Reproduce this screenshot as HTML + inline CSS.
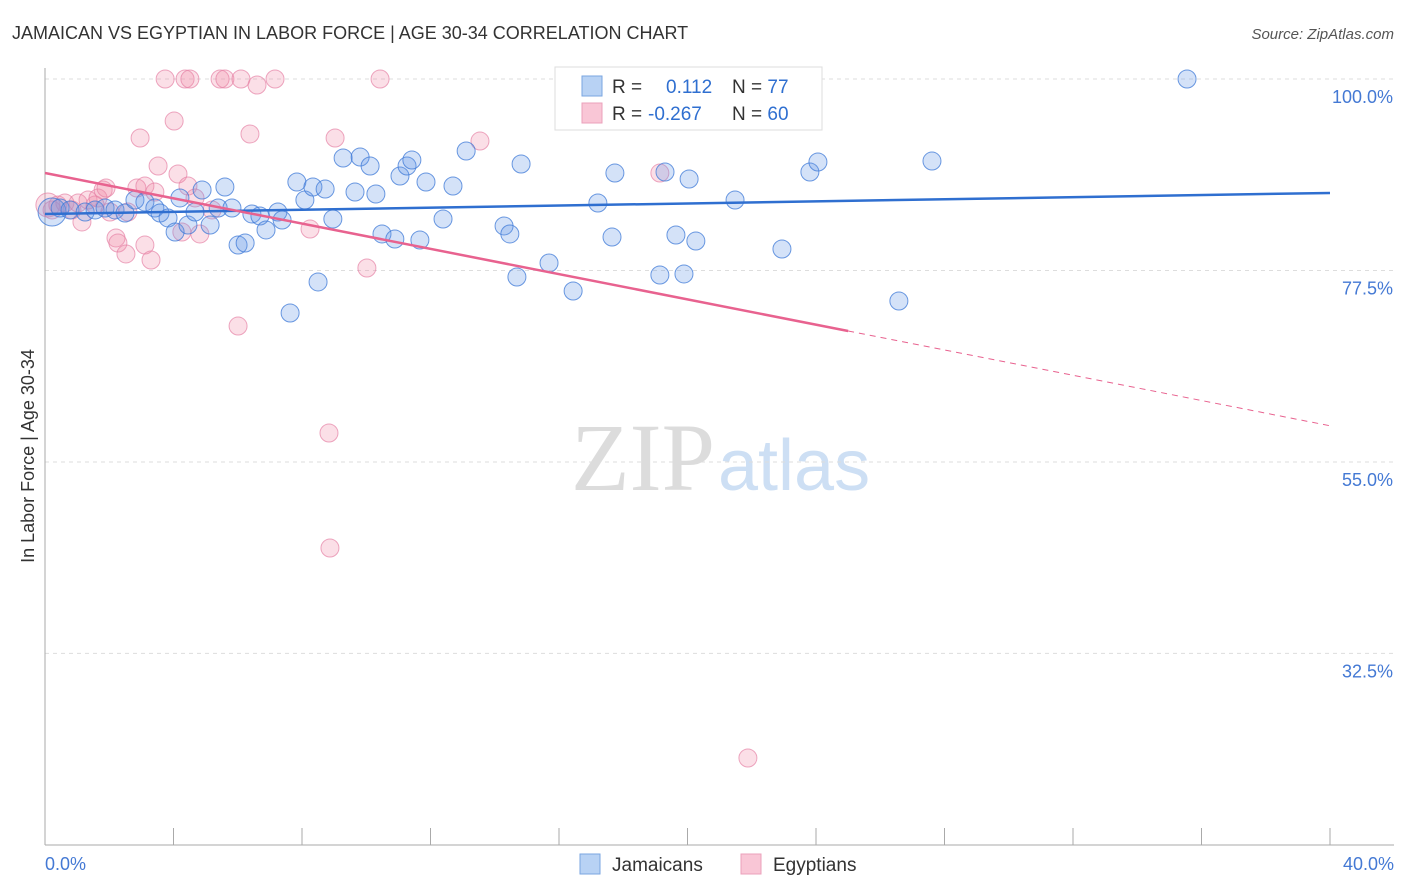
<!DOCTYPE html>
<html><head><meta charset="utf-8"><style>
body{margin:0;background:#fff;font-family:"Liberation Sans",sans-serif;}
svg{display:block}
</style></head><body>
<svg width="1406" height="892" xmlns="http://www.w3.org/2000/svg">
<text x="12" y="39" font-size="18" fill="#333">JAMAICAN VS EGYPTIAN IN LABOR FORCE | AGE 30-34 CORRELATION CHART</text>
<text x="1394" y="39" font-size="15" fill="#555" font-style="italic" text-anchor="end">Source: ZipAtlas.com</text>
<text x="715" y="490" font-size="96" fill="#dcdcdc" text-anchor="end" font-family="Liberation Serif">ZIP</text>
<text x="718" y="490" font-size="72" fill="#cddff4">atlas</text>
<g id="grid"></g>
<g id="axes"></g>
<text transform="translate(34,456) rotate(-90)" font-size="18" fill="#333" text-anchor="middle">In Labor Force | Age 30-34</text>
<g id="pts"></g>
<g id="trends"></g>
<g>
<rect x="555" y="67" width="267" height="63" fill="#fff" stroke="#ddd"/>
<rect x="582" y="76" width="20" height="20" fill="#b8d2f4" stroke="#7aa6e0"/>
<rect x="582" y="103" width="20" height="20" fill="#f9c6d6" stroke="#eba0bb"/>
<text x="612" y="93" font-size="19" fill="#333">R = <tspan fill="#2f6fd0" x="666">0.112</tspan><tspan fill="#333" x="732">N = </tspan><tspan fill="#2f6fd0">77</tspan></text>
<text x="612" y="120" font-size="19" fill="#333">R = <tspan fill="#2f6fd0" x="648">-0.267</tspan><tspan fill="#333" x="732">N = </tspan><tspan fill="#2f6fd0">60</tspan></text>
</g>
<g>
<rect x="580" y="854" width="20" height="20" fill="#b8d2f4" stroke="#7aa6e0"/>
<text x="612" y="871" font-size="19" fill="#333">Jamaicans</text>
<rect x="741" y="854" width="20" height="20" fill="#f9c6d6" stroke="#eba0bb"/>
<text x="773" y="871" font-size="19" fill="#333">Egyptians</text>
</g>
</svg>
<script>
const blueX=[0.22,0.47,0.78,1.25,1.56,1.87,2.18,2.49,2.80,3.11,3.42,3.58,3.83,4.05,4.20,4.45,4.67,4.89,5.14,5.39,5.60,5.82,6.01,6.23,6.44,6.69,6.88,7.25,7.38,7.63,7.84,8.09,8.34,8.50,8.72,8.96,9.28,9.65,9.81,10.12,10.30,10.49,10.89,11.05,11.27,11.42,11.67,11.86,12.39,12.70,13.11,14.29,14.47,14.69,14.82,15.69,16.44,17.21,17.65,17.74,19.14,19.30,19.64,19.89,20.05,20.26,21.48,22.94,23.81,24.06,26.58,27.61,35.55];
const blueY=[84.37,84.84,84.61,84.37,84.61,84.84,84.61,84.25,85.78,85.55,84.84,84.25,83.67,82.02,86.02,82.84,84.37,86.96,82.84,84.84,87.31,84.84,80.49,80.73,84.14,83.90,82.26,84.37,83.43,72.50,87.90,85.78,87.31,76.15,87.07,83.55,90.72,86.72,90.83,89.78,86.49,81.79,81.20,88.60,89.78,90.48,81.08,87.90,83.55,87.43,91.54,82.73,81.79,76.73,90.01,78.38,75.09,85.43,81.43,88.95,76.97,89.07,81.67,77.09,88.25,80.96,85.78,80.02,89.07,90.25,73.91,90.36,100];
const pinkX=[0.09,0.22,0.40,0.62,0.84,1.03,1.15,1.34,1.56,1.65,1.81,1.90,2.02,2.21,2.27,2.52,2.58,2.86,2.96,3.11,3.11,3.30,3.42,3.52,3.74,4.02,4.14,4.26,4.36,4.51,4.45,4.67,4.82,5.20,5.45,5.60,6.01,6.10,6.38,6.60,7.16,8.25,8.84,8.87,9.03,10.02,10.43,13.54,18.24,19.14,21.88];
const pinkY=[85.19,84.61,85.19,85.43,84.61,85.43,83.20,85.78,85.19,86.02,86.96,87.19,84.37,81.32,80.73,79.44,84.37,87.19,93.07,87.43,80.49,78.73,86.72,89.78,100,95.06,88.84,82.02,100,100,87.43,86.02,81.79,84.61,100,100,70.97,100,93.54,99.29,100,82.37,58.40,44.89,93.07,77.79,100,92.71,100,88.95,20.21];
const blueTrend=[84.14,86.61];
const pinkTrend=[88.95,59.25];
const pinkSolidEnd=25;
const yTicks=[100,77.5,55,32.5];
const yTickLabels=["100.0%","77.5%","55.0%","32.5%"];
const xTicks=[0,4,8,12,16,20,24,28,32,36,40];

const NS="http://www.w3.org/2000/svg";
const X=v=>45+v*32.125, Y=v=>79+(100-v)*8.51;
function mk(tag,attrs,parent){const e=document.createElementNS(NS,tag);for(const k in attrs)e.setAttribute(k,attrs[k]);parent.appendChild(e);return e;}
const grid=document.getElementById('grid'),axes=document.getElementById('axes'),pts=document.getElementById('pts'),tr=document.getElementById('trends');
yTicks.forEach((t,i)=>{
 const l=mk('line',{x1:45,x2:1394,y1:Y(t),y2:Y(t),stroke:'#ddd','stroke-dasharray':'4,4'},grid);
 
 
 const tx=mk('text',{x:1393,y:Y(t)+24,'font-size':18,fill:'#4479d4','text-anchor':'end'},axes);
 tx.textContent=yTickLabels[i];
 
 
});
mk('line',{x1:45,x2:45,y1:68,y2:845,stroke:'#aaa'},axes);
mk('line',{x1:45,x2:1394,y1:845,y2:845,stroke:'#aaa'},axes);
xTicks.forEach(t=>{
 const l=mk('line',{x1:X(t),x2:X(t),y1:828,y2:845,stroke:'#aaa'},axes);
 
 
});
const x0=mk('text',{x:45,y:870,'font-size':18,fill:'#4479d4'},axes);x0.textContent='0.0%';


const x1=mk('text',{x:1394,y:870,'font-size':18,fill:'#4479d4','text-anchor':'end'},axes);x1.textContent='40.0%';


pinkX.forEach((v,i)=>{
 const c=mk('circle',{cx:X(v),cy:Y(pinkY[i]),r:i==0?12:9,fill:'rgba(240,140,170,0.28)',stroke:'rgba(230,130,165,0.7)','stroke-width':1},pts);
 
 
});
blueX.forEach((v,i)=>{
 const c=mk('circle',{cx:X(v),cy:Y(blueY[i]),r:i==0?14:9,fill:'rgba(100,150,230,0.28)',stroke:'rgba(60,120,215,0.75)','stroke-width':1},pts);
 
 
});
const bl=mk('line',{x1:X(0),y1:Y(blueTrend[0]),x2:X(40),y2:Y(blueTrend[1]),stroke:'#2f6fd0','stroke-width':2.5},tr);


const pm=pinkTrend[0]+(pinkTrend[1]-pinkTrend[0])*pinkSolidEnd/40;
const pl=mk('line',{x1:X(0),y1:Y(pinkTrend[0]),x2:X(pinkSolidEnd),y2:Y(pm),stroke:'#e8628f','stroke-width':2.5},tr);


const pd=mk('line',{x1:X(pinkSolidEnd),y1:Y(pm),x2:X(40),y2:Y(pinkTrend[1]),stroke:'#e8628f','stroke-width':1,'stroke-dasharray':'6,5'},tr);


</script>
</body></html>
